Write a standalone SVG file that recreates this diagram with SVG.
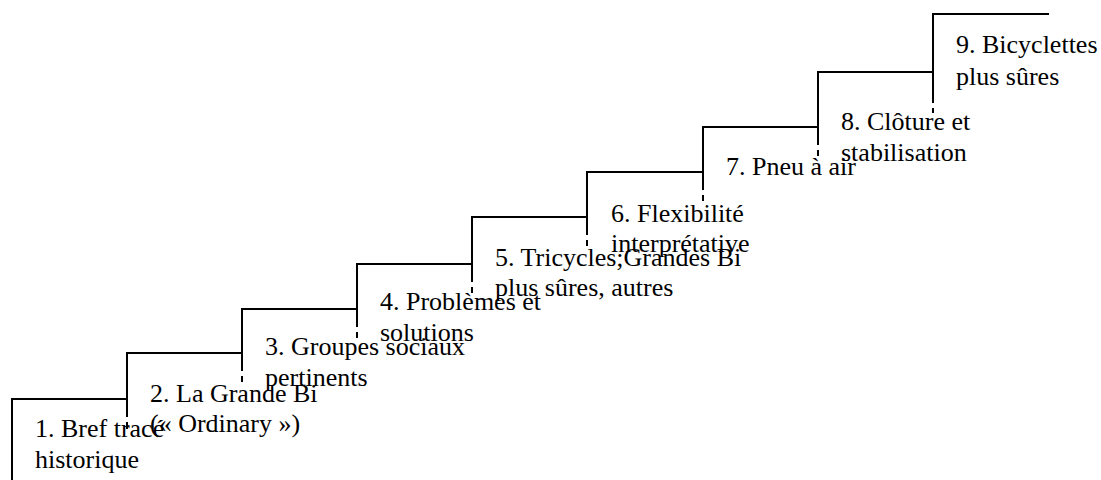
<svg xmlns="http://www.w3.org/2000/svg" width="1101" height="480" viewBox="0 0 1101 480">
<style>
.ln{fill:none;stroke:#000;stroke-width:2;stroke-linecap:butt;stroke-linejoin:miter}
.t{font-family:"Liberation Serif","Times New Roman",serif;font-size:26px;fill:#000}
</style>
<rect width="1101" height="480" fill="#fff"/>
<g id="connectors">
<path class="ln" d="M127 422V429"/>
<path class="ln" d="M242 376V382"/>
<path class="ln" d="M357 332V338"/>
<path class="ln" d="M472 287V293"/>
<path class="ln" d="M587 240V246"/>
<path class="ln" d="M703 195V201"/>
<path class="ln" d="M818 150V156"/>
<path class="ln" d="M933 108V113"/>
</g>
<g id="step1"><path class="ln" d="M12 480V399H127"/><text class="t" x="35" y="437">1. Bref tracé</text><text class="t" x="35" y="468">historique</text></g>
<g id="step2"><path class="ln" d="M127 417V353H242"/><text class="t" x="150" y="402">2. La Grande Bi</text><text class="t" x="150" y="432">(« Ordinary »)</text></g>
<g id="step3"><path class="ln" d="M242 371V309H357"/><text class="t" x="265" y="355">3. Groupes sociaux</text><text class="t" x="265" y="386">pertinents</text></g>
<g id="step4"><path class="ln" d="M357 327V264H472"/><text class="t" x="380" y="310">4. Problèmes et</text><text class="t" x="380" y="341">solutions</text></g>
<g id="step5"><path class="ln" d="M472 282V217H587"/><text class="t" x="495" y="266">5. Tricycles;Grandes Bi</text><text class="t" x="495" y="296">plus sûres, autres</text></g>
<g id="step6"><path class="ln" d="M587 235V172H703"/><text class="t" x="611" y="222">6. Flexibilité</text><text class="t" x="611" y="252">interprétative</text></g>
<g id="step7"><path class="ln" d="M703 190V127H818"/><text class="t" x="726" y="175">7. Pneu à air</text></g>
<g id="step8"><path class="ln" d="M818 145V72H933"/><text class="t" x="841" y="130">8. Clôture et</text><text class="t" x="841" y="161">stabilisation</text></g>
<g id="step9"><path class="ln" d="M933 103V14H1049"/><text class="t" x="956" y="53">9. Bicyclettes</text><text class="t" x="956" y="85">plus sûres</text></g>
</svg>
